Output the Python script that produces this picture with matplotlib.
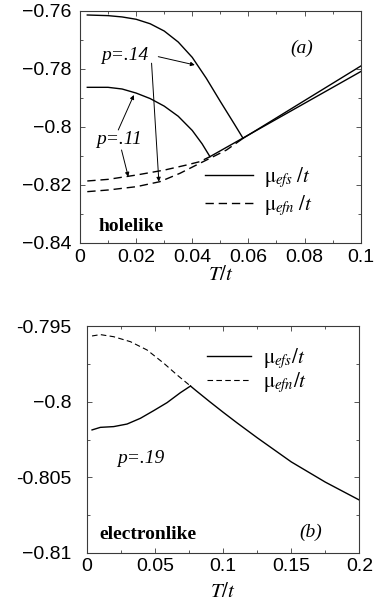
#!/usr/bin/env python3

import matplotlib
matplotlib.use('Agg')
import matplotlib.pyplot as plt
from matplotlib.ticker import MultipleLocator, FixedLocator, FixedFormatter

plt.rcParams['font.family'] = ['Liberation Sans', 'DejaVu Sans']
plt.rcParams['mathtext.fontset'] = 'stix'

# ---- panel (a): holelike ----
# p=.14, superconducting (solid) below Tc
t14_s = [0.0026, 0.01, 0.015, 0.02, 0.025, 0.03, 0.035, 0.04, 0.045, 0.05, 0.055, 0.0581]
mu14_s = [-0.76138, -0.76160, -0.76205, -0.76285, -0.76440, -0.76690, -0.77070, -0.77600,
          -0.78320, -0.79120, -0.79900, -0.80391]
# p=.14, normal (dashed) below Tc
t14_n = [0.0026, 0.0101, 0.0202, 0.0285, 0.0356, 0.0415, 0.0463, 0.0522, 0.0581]
mu14_n = [-0.82230, -0.82172, -0.82057, -0.81885, -0.81598, -0.81310, -0.81080, -0.80793, -0.80391]
# p=.14 above Tc
t14_hi = [0.0581, 0.07, 0.08, 0.09, 0.1]
mu14_hi = [-0.80391, -0.79684, -0.79089, -0.78495, -0.7790]

# p=.11
t11_s = [0.0026, 0.01, 0.015, 0.02, 0.025, 0.03, 0.035, 0.04, 0.0435, 0.0463]
mu11_s = [-0.78632, -0.78632, -0.78690, -0.78830, -0.79020, -0.79280, -0.79630, -0.80120,
          -0.80580, -0.81023]
t11_n = [0.0026, 0.0101, 0.0202, 0.0302, 0.038, 0.0427, 0.0463]
mu11_n = [-0.81862, -0.81805, -0.81655, -0.81483, -0.81310, -0.81195, -0.81023]
t11_hi = [0.0463, 0.0522, 0.0581, 0.07, 0.08, 0.09, 0.1]
mu11_hi = [-0.81023, -0.80701, -0.80379, -0.79729, -0.79183, -0.78637, -0.7809]

a_yticks = [-0.84, -0.82, -0.80, -0.78, -0.76]
a_ylabels = ['\u22120.84', '\u22120.82', '\u22120.8', '\u22120.78', '\u22120.76']
a_xticks = [0, 0.02, 0.04, 0.06, 0.08, 0.1]
a_xlabels = ['0', '0.02', '0.04', '0.06', '0.08', '0.1']

# ---- panel (b): electronlike, p=.19 ----
tb_n = [0.0037, 0.0098, 0.0196, 0.0319, 0.0441, 0.0564, 0.0662, 0.076]
mub_n = [-0.79563, -0.79554, -0.79568, -0.79601, -0.79656, -0.79744, -0.79822, -0.79895]
tb_s = [0.0037, 0.0098, 0.0196, 0.0294, 0.0392, 0.049, 0.0588, 0.0686, 0.076]
mub_s = [-0.80186, -0.80169, -0.80164, -0.80147, -0.80109, -0.80058, -0.80005, -0.79939, -0.79895]
tb_hi = [0.076, 0.08, 0.09, 0.1, 0.11, 0.125, 0.15, 0.175, 0.2]
mub_hi = [-0.79895, -0.79925, -0.79998, -0.80069, -0.80138, -0.80238, -0.80398, -0.80532, -0.80651]

b_yticks = [-0.81, -0.805, -0.80, -0.795]
b_ylabels = ['\u22120.81', '-0.805', '\u22120.8', '-0.795']
b_xticks = [0, 0.05, 0.1, 0.15, 0.2]
b_xlabels = ['0', '0.05', '0.1', '0.15', '0.2']

SERIF = ['Liberation Serif', 'DejaVu Serif']
FRAME = '#3a3a3a'


def style(ax, xminor, yminor, ypad, xlpad):
    for s in ax.spines.values():
        s.set_color(FRAME)
        s.set_linewidth(0.8)
    ax.xaxis.set_minor_locator(MultipleLocator(xminor))
    ax.yaxis.set_minor_locator(MultipleLocator(yminor))
    ax.tick_params(which='both', direction='in', top=True, right=True,
                   color=FRAME, width=0.6, labelsize=14)
    ax.tick_params(which='major', length=3.5)
    ax.tick_params(which='minor', length=2)
    ax.tick_params(axis='y', pad=ypad)
    ax.tick_params(axis='x', pad=4)
    ax.set_xlabel(r'$T/t$', fontsize=15, labelpad=xlpad)


fig = plt.figure(figsize=(3.78, 6.01), dpi=100)

# panel (a)
ax = fig.add_axes([0.2116, 0.5957, 0.7426, 0.386])
kw = dict(color='black', lw=1.0)
ax.plot(t14_s, mu14_s, '-', **kw)
ax.plot(t11_s, mu11_s, '-', **kw)
ax.plot(t14_n, mu14_n, '--', dashes=(6, 3.5), **kw)
ax.plot(t11_n, mu11_n, '--', dashes=(6, 3.5), **kw)
ax.plot(t14_hi, mu14_hi, '-', **kw)
ax.plot(t11_hi, mu11_hi, '-', **kw)
ax.plot([], [], '-', label=r'$\mathrm{\mu}_{efs}\;/t$', **kw)
ax.plot([], [], '--', dashes=(6, 3.5), label=r'$\mathrm{\mu}_{efn}\;/t$', **kw)
ax.set_xlim(0, 0.1)
ax.set_ylim(-0.84, -0.76)
ax.xaxis.set_major_locator(FixedLocator(a_xticks))
ax.xaxis.set_major_formatter(FixedFormatter(a_xlabels))
ax.yaxis.set_major_locator(FixedLocator(a_yticks))
ax.yaxis.set_major_formatter(FixedFormatter(a_ylabels))
style(ax, 0.01, 0.01, 6, -0.5)
ax.legend(loc='center left', bbox_to_anchor=(0.445, 0.222), frameon=False,
          fontsize=15, handlelength=2.3, handletextpad=0.55, labelspacing=0.12,
          borderpad=0, borderaxespad=0)

akw = dict(arrowstyle='-|>', color='black', lw=0.7, mutation_scale=6,
           shrinkA=0, shrinkB=0)
ax.text(0.016, -0.7754, 'p=.14', family=SERIF, style='italic', fontsize=14,
        ha='center', va='center')
ax.annotate('', xy=(0.0409, -0.77862), xytext=(0.0279, -0.77575), arrowprops=akw)
ax.annotate('', xy=(0.0281, -0.81885), xytext=(0.0255, -0.7780), arrowprops=akw)
ax.text(0.014, -0.80445, 'p=.11', family=SERIF, style='italic', fontsize=14,
        ha='center', va='center')
ax.annotate('', xy=(0.0192, -0.78897), xytext=(0.01364, -0.80103), arrowprops=akw)
ax.annotate('', xy=(0.0172, -0.81713), xytext=(0.0148, -0.80793), arrowprops=akw)
ax.text(0.79, 0.84, '(a)', transform=ax.transAxes, family=SERIF, style='italic',
        fontsize=14, ha='center', va='center')
ax.text(0.065, 0.069, 'holelike', transform=ax.transAxes, family=SERIF,
        weight='bold', fontsize=14, ha='left', va='center')

# panel (b)
bx = fig.add_axes([0.2302, 0.0804, 0.7204, 0.3764])
bx.plot(tb_n, mub_n, '--', color='black', lw=0.8, dashes=(5, 3))
bx.plot(tb_s, mub_s, '-', **kw)
bx.plot(tb_hi, mub_hi, '-', **kw)
bx.plot([], [], '-', label=r'$\mathrm{\mu}_{efs}/t$', **kw)
bx.plot([], [], '--', color='black', lw=0.8, dashes=(5, 3), label=r'$\mathrm{\mu}_{efn}/t$')
bx.set_xlim(0, 0.2)
bx.set_ylim(-0.81, -0.795)
bx.xaxis.set_major_locator(FixedLocator(b_xticks))
bx.xaxis.set_major_formatter(FixedFormatter(b_xlabels))
bx.yaxis.set_major_locator(FixedLocator(b_yticks))
bx.yaxis.set_major_formatter(FixedFormatter(b_ylabels))
style(bx, 0.025, 0.0025, 11, 5)
bx.legend(loc='center left', bbox_to_anchor=(0.44, 0.805), frameon=False,
          fontsize=15, handlelength=2.1, handletextpad=0.6, labelspacing=0.0,
          borderpad=0, borderaxespad=0)
bx.text(0.11, 0.415, 'p=.19', transform=bx.transAxes, family=SERIF,
        style='italic', fontsize=14, ha='left', va='center')
bx.text(0.045, 0.08, 'electronlike', transform=bx.transAxes, family=SERIF,
        weight='bold', fontsize=14, ha='left', va='center')
bx.text(0.82, 0.089, '(b)', transform=bx.transAxes, family=SERIF,
        style='italic', fontsize=14, ha='center', va='center')

fig.savefig('out.png', dpi=100)
